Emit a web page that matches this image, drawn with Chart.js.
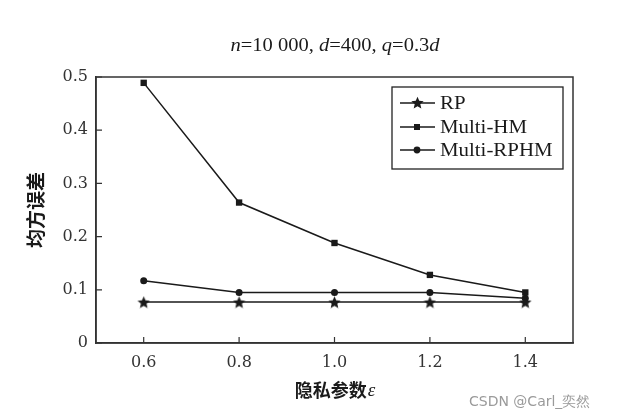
<!DOCTYPE html>
<html>
<head>
<meta charset="utf-8">
<script src="https://cdn.jsdelivr.net/npm/chart.js@4"></script>
<style>
  html, body { margin: 0; padding: 0; background: #fff; }
  #wrap { width: 619px; height: 417px; position: relative; }
</style>
</head>
<body>
<div id="wrap"><canvas id="canvas"></canvas></div>
<script>
// data
const epsilons = [0.6, 0.8, 1.0, 1.2, 1.4];
const rp = [0.077, 0.077, 0.077, 0.077, 0.077];
const multiHM = [0.489, 0.264, 0.188, 0.128, 0.095];
const multiRPHM = [0.117, 0.095, 0.095, 0.095, 0.084];
const xTicks = [0.6, 0.8, 1.0, 1.2, 1.4];
const yTicks = [0, 0.1, 0.2, 0.3, 0.4, 0.5];

const ink = "#1a1a1a";

// filled star for the RP series
function makeStar(size) {
	const c = document.createElement("canvas");
	c.width = size; c.height = size;
	const g = c.getContext("2d");
	const r = size / 2, ri = r * 0.45;
	g.beginPath();
	for (let i = 0; i < 10; i++) {
		const rad = i % 2 === 0 ? r : ri;
		const a = -Math.PI / 2 + i * Math.PI / 5;
		const px = r + rad * Math.cos(a), py = r + 0.7 + rad * Math.sin(a);
		if (i === 0) g.moveTo(px, py); else g.lineTo(px, py);
	}
	g.closePath();
	g.fillStyle = ink;
	g.fill();
	return c;
}
const star = makeStar(13);

const pts = arr => arr.map((v, i) => ({ x: epsilons[i], y: v }));

// frame, inward ticks, titles, legend
const decor = {
	id: "decor",
	afterDraw(chart) {
		const ctx = chart.ctx;
		const a = chart.chartArea;
		const xs = chart.scales.x, ys = chart.scales.y;
		ctx.save();
		ctx.strokeStyle = "#333";
		ctx.lineWidth = 1.5;
		ctx.strokeRect(a.left, a.top, a.right - a.left, a.bottom - a.top);
		ctx.lineWidth = 1.2;
		ctx.beginPath();
		xTicks.forEach(t => {
			const px = xs.getPixelForValue(t);
			ctx.moveTo(px, a.bottom); ctx.lineTo(px, a.bottom - 6);
		});
		yTicks.forEach(t => {
			const py = ys.getPixelForValue(t);
			ctx.moveTo(a.left, py); ctx.lineTo(a.left + 6, py);
		});
		ctx.stroke();

		// title with italic letters
		const parts = [["n", true], ["=10 000, ", false], ["d", true], ["=400, ", false], ["q", true], ["=0.3", false], ["d", true]];
		const sx = 1.14;
		const fontFor = it => (it ? "italic " : "") + "18px 'Liberation Serif'";
		let w = 0;
		parts.forEach(p => { ctx.font = fontFor(p[1]); w += ctx.measureText(p[0]).width; });
		ctx.save();
		ctx.translate(335 - w * sx / 2, 51);
		ctx.scale(sx, 1);
		ctx.fillStyle = ink;
		ctx.textBaseline = "alphabetic";
		let cx = 0;
		parts.forEach(p => {
			ctx.font = fontFor(p[1]);
			ctx.fillText(p[0], cx, 0);
			cx += ctx.measureText(p[0]).width;
		});
		ctx.restore();

		// axis titles
		ctx.fillStyle = ink;
		ctx.font = "bold 19px 'Noto Sans CJK SC'";
		ctx.textAlign = "center";
		ctx.textBaseline = "middle";
		ctx.save();
		ctx.translate(36, (a.top + a.bottom) / 2);
		ctx.rotate(-Math.PI / 2);
		ctx.fillText("均方误差", 0, 0);
		ctx.restore();
		ctx.textAlign = "left";
		const lab = "隐私参数";
		ctx.font = "bold 18px 'Noto Sans CJK SC'";
		const lw = ctx.measureText(lab).width;
		ctx.font = "italic 19px 'Liberation Serif'";
		const ew = ctx.measureText("ε").width;
		const lx = (a.left + a.right) / 2 - (lw + ew) / 2;
		ctx.font = "bold 18px 'Noto Sans CJK SC'";
		ctx.fillText(lab, lx, 390);
		ctx.font = "italic 19px 'Liberation Serif'";
		ctx.fillText("ε", lx + lw + 1, 391);

		// legend box
		const bx = 392, by = 87, bw = 171, bh = 82;
		ctx.strokeStyle = "#222";
		ctx.lineWidth = 1.3;
		ctx.strokeRect(bx, by, bw, bh);
		const rows = [103, 127, 150];
		chart.data.datasets.forEach((ds, i) => {
			const y = rows[i];
			ctx.strokeStyle = ink;
			ctx.lineWidth = 1.5;
			ctx.beginPath();
			ctx.moveTo(400, y); ctx.lineTo(435, y);
			ctx.stroke();
			ctx.fillStyle = ink;
			if (ds.pointStyle === "rect") ctx.fillRect(414, y - 3, 6, 6);
			else if (ds.pointStyle === "circle") { ctx.beginPath(); ctx.arc(417, y, 3.4, 0, Math.PI * 2); ctx.fill(); }
			else ctx.drawImage(star, 411, y - 7);
			ctx.save();
			ctx.translate(440, y + 6);
			ctx.scale(1.16, 1);
			ctx.font = "18px 'Liberation Serif'";
			ctx.textBaseline = "alphabetic";
			ctx.fillText(ds.label, 0, 0);
			ctx.restore();
		});

		// watermark
		ctx.fillStyle = "#9a9a9a";
		ctx.font = "14px 'DejaVu Sans'";
		ctx.textBaseline = "middle";
		ctx.fillText("CSDN @Carl_奕然", 469, 402);
		ctx.restore();
	}
};

new Chart(document.getElementById("canvas"), {
	type: "line",
	data: {
		datasets: [
			{ label: "RP", data: pts(rp), pointStyle: star, pointRadius: 6 },
			{ label: "Multi-HM", data: pts(multiHM), pointStyle: "rect", pointRadius: 4.5 },
			{ label: "Multi-RPHM", data: pts(multiRPHM), pointStyle: "circle", pointRadius: 3.5 },
		].map(d => Object.assign({
			borderColor: ink,
			backgroundColor: ink,
			pointBackgroundColor: ink,
			pointBorderColor: ink,
			pointBorderWidth: 0,
			borderWidth: 1.5,
			tension: 0,
		}, d)),
	},
	options: {
		responsive: true,
		maintainAspectRatio: false,
		animation: false,
		layout: { padding: { left: 0, top: 77, right: 46, bottom: 0 } },
		plugins: { legend: { display: false }, tooltip: { enabled: false }, title: { display: false } },
		scales: {
			x: {
				type: "linear",
				min: 0.5,
				max: 1.5,
				afterBuildTicks: s => { s.ticks = xTicks.map(v => ({ value: v })); },
				afterFit: s => { s.height = 74; },
				grid: { display: false, drawTicks: false },
				border: { display: true, color: "#333", width: 1.5 },
				ticks: {
					padding: 10,
					color: "#333",
					font: { family: "'DejaVu Serif'", size: 16 },
					callback: v => Number(v).toFixed(1),
				},
			},
			y: {
				min: 0,
				max: 0.5,
				afterBuildTicks: s => { s.ticks = yTicks.map(v => ({ value: v })); },
				afterFit: s => { s.width = 96; },
				grid: { display: false, drawTicks: false },
				border: { display: true, color: "#333", width: 1.5 },
				ticks: {
					padding: 8,
					color: "#333",
					font: { family: "'DejaVu Serif'", size: 16 },
					callback: v => (v === 0 ? "0" : Number(v).toFixed(1)),
				},
			},
		},
	},
	plugins: [decor],
});
</script>
</body>
</html>
